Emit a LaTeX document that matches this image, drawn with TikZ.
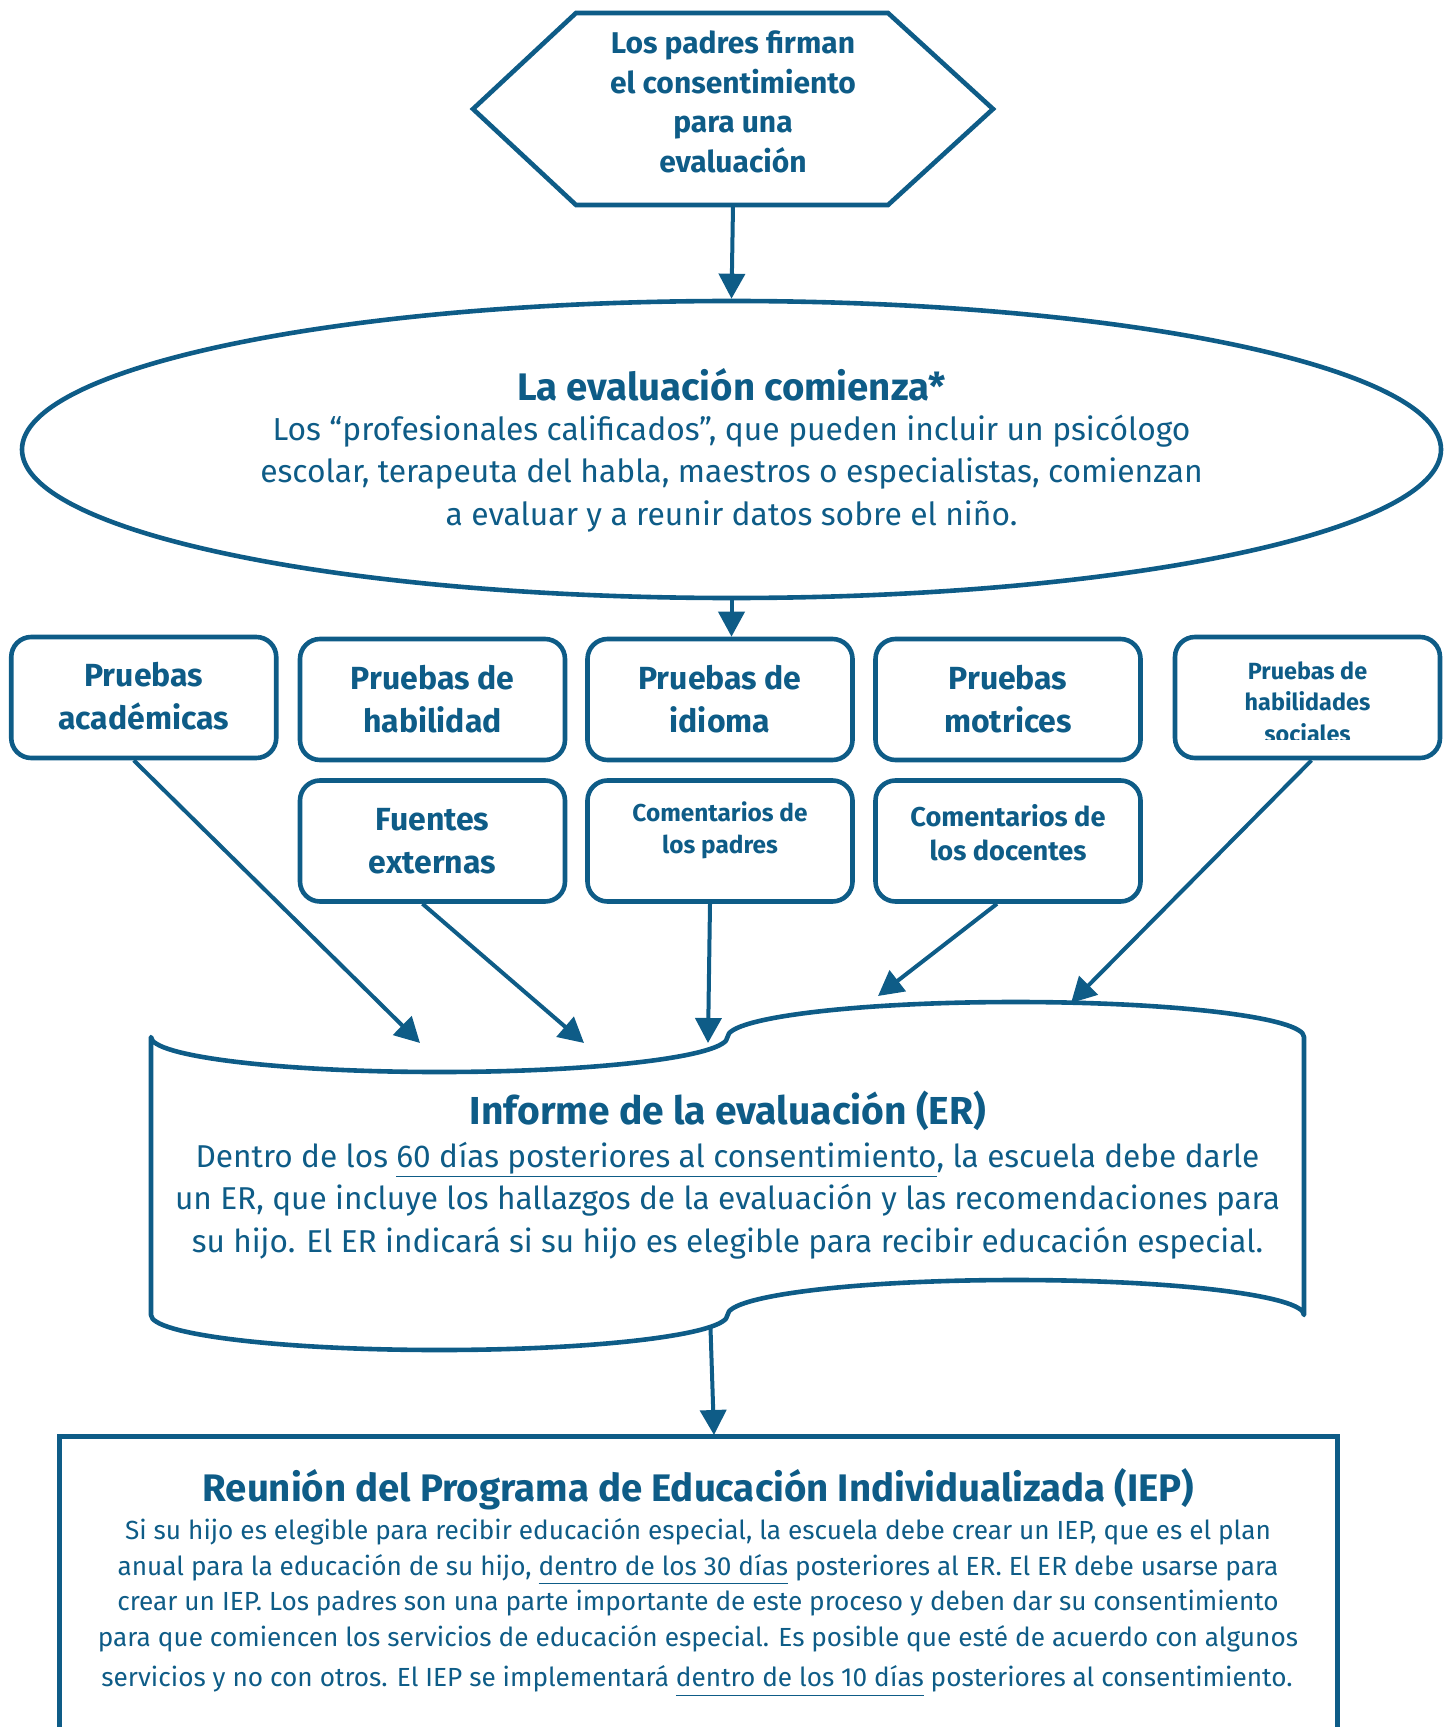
\documentclass[tikz,border=0pt]{standalone}
\usepackage{fontspec}
\setmainfont{Fira Sans}
\usetikzlibrary{shapes.geometric,arrows.meta}
\definecolor{blu}{HTML}{0E5C87}
\newcommand\myul[1]{\underline{#1\vphantom{p}}}
\tikzset{
 ln/.style={draw=blu, line width=2.3pt},
 box/.style={ln, rounded corners=10pt, minimum width=132.5pt, minimum height=60.5pt, inner sep=0pt},
 txt/.style={text=blu, align=center, inner sep=0pt},
 arr/.style={draw=blu, line width=2pt, -{Triangle[length=12.5pt,width=13pt]}},
 bigb/.style={txt, font=\bfseries\fontsize{16}{21.5}\selectfont},
}
\begin{document}
\begin{tikzpicture}[x=0.5pt,y=-0.5pt]
\useasboundingbox (0,0) rectangle (1452,1727);
\clip (0,0) rectangle (1452,1727);
% hexagon
\draw[ln, line join=miter] (576,13) -- (888,13) -- (993,109) -- (888,205) -- (576,205) -- (473,109) -- cycle;
\node[minimum width=260pt, minimum height=96pt, inner sep=0pt] (hex) at (733,109) {};
\node[txt, font=\bfseries\fontsize{15}{19.75}\selectfont] (hext) at (733,102) {Los padres firman\\el consentimiento\\para una\\evaluación};
% ellipse
\node[ellipse, ln, minimum width=709.5pt, minimum height=148.5pt, inner sep=0pt] (ell) at (731.5,449.5) {};
\node[txt, font=\bfseries\fontsize{19.2}{22}\selectfont] (ellt) at (731.5,384.5) {La evaluación comienza*};
\node[txt, font=\fontsize{15.9}{21.25}\selectfont] (ellb) at (731.5,473.5) {Los “profesionales calificados”, que pueden incluir un psicólogo\\escolar, terapeuta del habla, maestros o especialistas, comienzan\\a evaluar y a reunir datos sobre el niño.};
% boxes
\node[box] (b1) at (143.75,697.5) {};
\node[box] (b2) at (432.5,699.5) {};
\node[box] (b3) at (720,699.5) {};
\node[box] (b4) at (1008,699.5) {};
\node[box] (b5) at (1307.5,697.5) {};
\node[box] (b6) at (432.5,841) {};
\node[box] (b7) at (720,841) {};
\node[box] (b8) at (1008,841) {};
\node[bigb] (t1) at (143.75,696.5) {Pruebas\\académicas};
\node[bigb] (t2) at (432.5,699) {Pruebas de\\habilidad};
\node[bigb] (t3) at (720,699) {Pruebas de\\idioma};
\node[bigb] (t4) at (1008,699) {Pruebas\\motrices};
\begin{scope}
\clip (1180,640) rectangle (1436,739);
\node[txt, font=\bfseries\fontsize{11.7}{15.75}\selectfont] (t5) at (1307.5,702) {Pruebas de\\habilidades\\sociales};
\end{scope}
\node[bigb] (t6) at (432.5,841) {Fuentes\\externas};
\node[txt, font=\bfseries\fontsize{12.2}{16}\selectfont] (t7) at (720,830) {Comentarios de\\los padres};
\node[txt, font=\bfseries\fontsize{13.6}{17}\selectfont] (t8) at (1008,833) {Comentarios de\\los docentes};
% evaluation report (punched tape)
\draw[ln, line join=round] (151,1037)
  arc[start angle=180, end angle=0, x radius=288.25, y radius=35]
  arc[start angle=180, end angle=360, x radius=288.25, y radius=35]
  -- (1304,1315)
  arc[start angle=360, end angle=180, x radius=288.25, y radius=35]
  arc[start angle=0, end angle=180, x radius=288.25, y radius=35]
  -- cycle;
\node[minimum width=576.5pt, minimum height=139pt, inner sep=0pt] (er) at (727.5,1176) {};
\node[txt, font=\bfseries\fontsize{19.5}{22}\selectfont] (ert) at (728,1110.5) {Informe de la evaluación (ER)};
\node[txt, font=\fontsize{15.8}{21.25}\selectfont] (erb) at (727.5,1200.5) {Dentro de los \myul{60 días posteriores al consentimiento}, la escuela debe darle\\un ER, que incluye los hallazgos de la evaluación y las recomendaciones para\\su hijo. El ER indicará si su hijo es elegible para recibir educación especial.};
% IEP box
\draw[ln, line width=2.5pt] (59.5,1760) -- (59.5,1436.6) -- (1337.5,1436.6) -- (1337.5,1760);
\node[minimum width=639pt, minimum height=145pt, inner sep=0pt] (iep) at (698.5,1582) {};
\node[txt, font=\bfseries\fontsize{19.2}{22}\selectfont] (iept) at (698.5,1489.5) {Reunión del Programa de Educación Individualizada (IEP)};
\node[txt, font=\fontsize{13.1}{17.75}\selectfont] (iepb) at (698,1585.5) {Si su hijo es elegible para recibir educación especial, la escuela debe crear un IEP, que es el plan\\anual para la educación de su hijo, \myul{dentro de los 30 días} posteriores al ER. El ER debe usarse para\\crear un IEP. Los padres son una parte importante de este proceso y deben dar su consentimiento\\para que comiencen los servicios de educación especial. Es posible que esté de acuerdo con algunos};
\node[txt, font=\fontsize{13.1}{17.75}\selectfont] (iepc) at (697,1681) {servicios y no con otros. El IEP se implementará \myul{dentro de los 10 días} posteriores al consentimiento.};
% coordinates
\coordinate (e1) at (420,1043);
\coordinate (e2) at (584,1043);
\coordinate (e3) at (708,1043);
\coordinate (e4) at (878,996);
\coordinate (e5) at (1071,1003);
\coordinate (erout) at (710.5,1328);
\coordinate (iepin) at (714,1435);
% arrows
\draw[arr] (hex.south) -- (ell.north);
\draw[arr] (ell.south) -- (ell.south |- b3.north);
\draw[arr] ([xshift=-5pt]b1.south) -- (e1);
\draw[arr] ([xshift=-5pt]b6.south) -- (e2);
\draw[arr] ([xshift=-5pt]b7.south) -- (e3);
\draw[arr] ([xshift=-5.5pt]b8.south) -- (e4);
\draw[arr] ([xshift=2pt]b5.south) -- (e5);
\draw[arr] (erout) -- (iepin);
\end{tikzpicture}
\end{document}
